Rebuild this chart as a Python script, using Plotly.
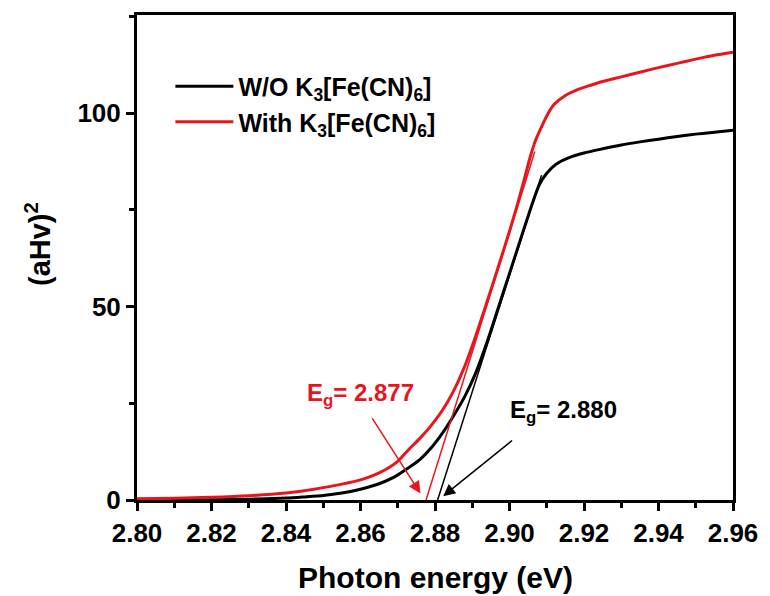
import plotly.graph_objects as go

# ---- data ----
black_x = [2.800, 2.810, 2.820, 2.830, 2.840, 2.845, 2.850, 2.855, 2.860, 2.865, 2.869,
           2.8727, 2.876, 2.879, 2.882, 2.885, 2.888, 2.891, 2.894, 2.897, 2.900, 2.903,
           2.906, 2.908, 2.910, 2.9125, 2.916, 2.920, 2.925, 2.930, 2.935, 2.940, 2.945,
           2.950, 2.955, 2.960]
black_y = [0.0, 0.02, 0.08, 0.2, 0.5, 0.8, 1.15, 1.8, 2.8, 4.2, 5.9,
           8.2, 10.5, 13.5, 17.3, 21.8, 26.8, 33.0, 40.9, 49.7, 58.6, 67.5,
           76.3, 81.5, 84.5, 86.8, 88.5, 89.7, 90.8, 91.8, 92.6, 93.3, 94.0,
           94.6, 95.1, 95.6]

red_x = [2.800, 2.810, 2.820, 2.830, 2.840, 2.845, 2.850, 2.855, 2.860, 2.865, 2.870,
         2.8727, 2.876, 2.879, 2.882, 2.885, 2.888, 2.891, 2.894, 2.897, 2.900, 2.902,
         2.904, 2.9055, 2.907, 2.9086, 2.9104, 2.912, 2.915, 2.918, 2.921, 2.925, 2.930,
         2.935, 2.940, 2.945, 2.950, 2.955, 2.960]
red_y = [0.3, 0.45, 0.7, 1.1, 1.8, 2.4, 3.2, 4.1, 5.2, 7.0, 10.0,
         12.8, 16.0, 19.3, 23.2, 28.2, 34.6, 42.6, 51.3, 60.3, 69.5, 76.0,
         83.0, 88.5, 93.0, 96.5, 100.0, 102.3, 104.6, 106.0, 107.0, 108.2, 109.4,
         110.6, 111.8, 112.9, 114.0, 115.0, 115.8]

# tangent (Tauc) lines
black_tan_x = [2.8807, 2.9086]
black_tan_y = [0.0, 84.0]
red_tan_x = [2.8776, 2.9068]
red_tan_y = [0.0, 90.1]

# band-gap labels and arrows
eg_black = 2.880
eg_red = 2.877
black_label_pos = (2.9146, 22.8)
red_label_pos = (2.8600, 27.2)
black_arrow = dict(tail=(2.9011, 15.7), tip=(2.8822, 1.0))
red_arrow = dict(tail=(2.8629, 21.5), tip=(2.8761, 1.7))

x_ticks = [2.80, 2.82, 2.84, 2.86, 2.88, 2.90, 2.92, 2.94, 2.96]
y_ticks = [0, 50, 100]

names = ["W/O K<sub>3</sub>[Fe(CN)<sub>6</sub>]", "With K<sub>3</sub>[Fe(CN)<sub>6</sub>]"]

RED = "rgb(232,22,28)"
BLACK = "black"
FONT = "Arial, Liberation Sans, sans-serif"

fig = go.Figure()
fig.add_trace(go.Scatter(x=black_x, y=black_y, mode="lines", name=names[0],
                         line=dict(color=BLACK, width=3, shape="spline", smoothing=0.7),
                         legendgroup="a"))
fig.add_trace(go.Scatter(x=red_x, y=red_y, mode="lines", name=names[1],
                         line=dict(color=RED, width=3, shape="spline", smoothing=0.7),
                         legendgroup="b"))
fig.add_trace(go.Scatter(x=black_tan_x, y=black_tan_y, mode="lines", showlegend=False,
                         line=dict(color=BLACK, width=1.5)))
fig.add_trace(go.Scatter(x=red_tan_x, y=red_tan_y, mode="lines", showlegend=False,
                         line=dict(color=RED, width=1.5)))

ann = []
for arr, col in ((black_arrow, BLACK), (red_arrow, RED)):
    ann.append(dict(x=arr["tip"][0], y=arr["tip"][1], ax=arr["tail"][0], ay=arr["tail"][1],
                    xref="x", yref="y", axref="x", ayref="y", text="", showarrow=True,
                    arrowhead=2, arrowsize=1.6, arrowwidth=1.5, arrowcolor=col, standoff=0))
ann.append(dict(x=black_label_pos[0], y=black_label_pos[1], xref="x", yref="y",
                text="E<sub>g</sub>= %.3f" % eg_black, showarrow=False,
                font=dict(family=FONT, size=24, color=BLACK, weight="bold")))
ann.append(dict(x=red_label_pos[0], y=red_label_pos[1], xref="x", yref="y",
                text="E<sub>g</sub>= %.3f" % eg_red, showarrow=False,
                font=dict(family=FONT, size=24, color=RED, weight="bold")))
# axis titles
ann.append(dict(x=0.5, y=-0.159, xref="paper", yref="paper", text="Photon energy (eV)",
                showarrow=False, xanchor="center", yanchor="middle",
                font=dict(family=FONT, size=30, color=BLACK, weight="bold")))
ann.append(dict(x=-0.166, y=0.528, xref="paper", yref="paper", text="(aHv)<sup>2</sup>",
                showarrow=False, xanchor="center", yanchor="middle", textangle=-90,
                font=dict(family=FONT, size=29, color=BLACK, weight="bold")))

axis_common = dict(showline=True, linecolor="black", linewidth=3, mirror=True,
                   ticks="outside", ticklen=8, tickwidth=3, tickcolor="black",
                   showgrid=False, zeroline=False,
                   tickfont=dict(family=FONT, size=26, color="black", weight="bold"))

fig.update_layout(
    width=770, height=596,
    margin=dict(l=137, r=32, t=15, b=96),
    paper_bgcolor="white", plot_bgcolor="white",
    annotations=ann,
    legend=dict(x=0.056, y=0.9, xanchor="left", yanchor="top",
                bgcolor="rgba(0,0,0,0)", itemwidth=58, tracegroupgap=0,
                font=dict(family=FONT, size=25, color="black", weight="bold")),
    xaxis=dict(range=[2.80, 2.96], tickvals=x_ticks,
               ticktext=["%.2f" % v for v in x_ticks],
               minor=dict(dtick=0.01, ticks="outside", ticklen=5, tickwidth=2.5, tickcolor="black"),
               **axis_common),
    yaxis=dict(range=[0, 125.4], tickvals=y_ticks,
               minor=dict(dtick=25, ticks="outside", ticklen=5, tickwidth=2.5, tickcolor="black"),
               **axis_common),
)

fig.write_html("out.html")
